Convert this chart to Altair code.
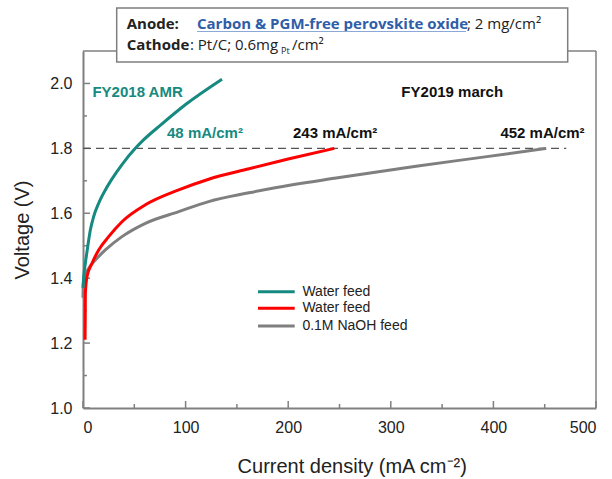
import altair as alt
import pandas as pd

# ---------------- data ----------------
teal_x = [0, 0.7, 2.3, 4.6, 7.2, 10.4, 15.3, 21.8, 28.3, 38, 51, 59, 75, 100, 135.5]
teal_y = [1.37, 1.405, 1.446, 1.497, 1.549, 1.590, 1.631, 1.672, 1.706, 1.750, 1.80, 1.826, 1.87, 1.935, 2.013]

red_x = [2.0, 2.2, 2.3, 3.9, 8.8, 15.3, 25, 38, 60.8, 93.3, 122.5, 161.8, 200, 245]
red_y = [1.21, 1.29, 1.353, 1.405, 1.446, 1.487, 1.528, 1.574, 1.626, 1.672, 1.705, 1.737, 1.767, 1.80]

gray_x = [0, 0.3, 1.7, 5.6, 12.1, 21.8, 38, 60.8, 93.3, 122.5, 161.8, 186, 250, 324.6, 390, 451.5]
gray_y = [1.34, 1.385, 1.405, 1.431, 1.456, 1.487, 1.528, 1.569, 1.605, 1.636, 1.663, 1.678, 1.71, 1.745, 1.773, 1.80]

series_ids = ["fy2018", "fy2019_water", "fy2019_naoh"]
legend_labels = ["Water feed", "Water feed", "0.1M NaOH feed"]

x_major = [0, 100, 200, 300, 400, 500]
x_minor = [50, 150, 250, 350, 450]
y_major = [1.0, 1.2, 1.4, 1.6, 1.8, 2.0]
y_minor = [1.1, 1.3, 1.5, 1.7, 1.9]

ref_voltage = [1.8]
ref_start = [0]
ref_end = [471]

ann_text = ["FY2018 AMR", "FY2019 march", "48 mA/cm²", "243 mA/cm²", "452 mA/cm²"]
ann_x = [9.2, 310.3, 81.9, 204.7, 406.8]
ann_y = [1.959, 1.959, 1.831, 1.831, 1.831]
ann_teal = [0, 2]
ann_black = [1, 3, 4]

# ---------------- styling ----------------
TEAL = "#168a80"
RED = "#ff0000"
GRAY = "#7f7f7f"
colors = [TEAL, RED, GRAY]
FRAME = "#808080"
TXT = "#222222"
FONT = "Liberation Sans"
BOXFONT = "Open Sans"

W, H = 513, 357

XS = alt.Scale(domain=[0, 500], nice=False, zero=False)
YS = alt.Scale(domain=[1.0, 2.1], nice=False, zero=False)

x_axis = alt.Axis(values=x_major, format="d", ticks=False, grid=False,
                  domainColor=FRAME, domainWidth=2,
                  labelFont=FONT, labelFontSize=16, labelColor=TXT, labelPadding=11,
                  title="Current density (mA cm⁻²)", titleFont=FONT, titleFontSize=20,
                  titleFontWeight="normal", titleColor=TXT, titlePadding=21,
                  titleX=268.7)
y_axis = alt.Axis(values=y_major, format=".1f", ticks=False, grid=False,
                  domainColor=FRAME, domainWidth=2,
                  labelFont=FONT, labelFontSize=16, labelColor=TXT, labelPadding=11,
                  title="Voltage (V)", titleFont=FONT, titleFontSize=20,
                  titleFontWeight="normal", titleColor=TXT, titlePadding=17)


def X(field="x"):
    return alt.X(f"{field}:Q", scale=XS, axis=x_axis)


def Y(field="y"):
    return alt.Y(f"{field}:Q", scale=YS, axis=y_axis)


one = pd.DataFrame({"a": [0]})

layers = []

# tick marks (inside)
for vals, ln in [(y_major, 7), (y_minor, 4)]:
    layers.append(alt.Chart(pd.DataFrame({"y": vals})).mark_rule(color=FRAME, strokeWidth=1.5)
                  .encode(y=Y(), x=alt.value(0), x2=alt.value(ln)))
for vals, ln in [(x_major, 7), (x_minor, 4)]:
    layers.append(alt.Chart(pd.DataFrame({"x": vals})).mark_rule(color=FRAME, strokeWidth=1.5)
                  .encode(x=X(), y=alt.value(H), y2=alt.value(H - ln)))

# top and right frame
layers.append(alt.Chart(one).mark_rule(color=FRAME, strokeWidth=1.5)
              .encode(x=alt.value(0), x2=alt.value(W), y=alt.value(0)))
layers.append(alt.Chart(one).mark_rule(color=FRAME, strokeWidth=1.5)
              .encode(x=alt.value(W), y=alt.value(0), y2=alt.value(H)))

# dashed 1.8 V reference
ref = pd.DataFrame({"x": ref_start, "x2": ref_end, "y": ref_voltage})
layers.append(alt.Chart(ref).mark_rule(color="#555555", strokeWidth=1.3, strokeDash=[8, 5])
              .encode(x=X(), x2="x2:Q", y=Y()))

# curves
rows = []
for sid, xs, ys in zip(series_ids, [teal_x, red_x, gray_x], [teal_y, red_y, gray_y]):
    for i, (xv, yv) in enumerate(zip(xs, ys)):
        rows.append({"series": sid, "x": xv, "y": yv, "i": i})
curves = pd.DataFrame(rows)
for sid, col in reversed(list(zip(series_ids, colors))):
    layers.append(alt.Chart(curves).transform_filter(alt.datum.series == sid)
                  .mark_line(color=col, strokeWidth=3, interpolate="monotone")
                  .encode(x=X(), y=Y(), order="i:Q"))

# annotations
ann = pd.DataFrame({"x": ann_x, "y": ann_y, "t": ann_text})
for idx, col in [(ann_teal, TEAL), (ann_black, "#111111")]:
    layers.append(alt.Chart(ann.iloc[idx]).mark_text(align="left", baseline="alphabetic",
                                                      font=FONT, fontSize=15, fontWeight="bold",
                                                      color=col)
                  .encode(x=X(), y=Y(), text="t:N"))

# legend
leg_y = [240.7, 257.3, 275]
for lab, col, ly in zip(legend_labels, colors, leg_y):
    layers.append(alt.Chart(one).mark_rule(color=col, strokeWidth=3)
                  .encode(x=alt.value(175), x2=alt.value(211.7), y=alt.value(ly)))
    layers.append(alt.Chart(one).mark_text(text=lab, align="left", baseline="middle",
                                           font=FONT, fontSize=14, color=TXT)
                  .encode(x=alt.value(219.4), y=alt.value(ly)))

# header box
layers.append(alt.Chart(one).mark_rect(fill="white", stroke=GRAY, strokeWidth=1.5)
              .encode(x=alt.value(33.7), x2=alt.value(484.7), y=alt.value(-43), y2=alt.value(11)))


def txt(s, x, y, size=15, weight="normal", color=TXT):
    return (alt.Chart(one).mark_text(text=s, align="left", baseline="alphabetic",
                                     font=BOXFONT, fontSize=size, fontWeight=weight, color=color)
            .encode(x=alt.value(x), y=alt.value(y)))


layers.append(txt("Anode:", 43.7, -22.5, weight="bold"))
layers.append(txt("Carbon & PGM-free perovskite oxide", 114, -22.5, weight="bold", color="#2f5ea8"))
layers.append(alt.Chart(one).mark_rule(color="#8aa8d8", strokeWidth=1)
              .encode(x=alt.value(114), x2=alt.value(383), y=alt.value(-19.5)))
layers.append(txt("; 2 mg/cm²", 384, -22.5))
layers.append(txt("Cathode", 43.7, -1, weight="bold"))
layers.append(txt(": Pt/C; 0.6mg", 107, -1))
layers.append(txt("Pt", 198, 2.5, size=9))
layers.append(txt("/cm²", 209, -1))

chart = alt.layer(*layers).properties(
    width=W, height=H,
    autosize=alt.AutoSizeParams(type="none"),
    padding={"left": 83, "top": 51, "right": 16, "bottom": 71},
    background="white",
).configure_view(stroke=None)

chart.save("out.html", embed_options={"renderer": "svg", "actions": False})
